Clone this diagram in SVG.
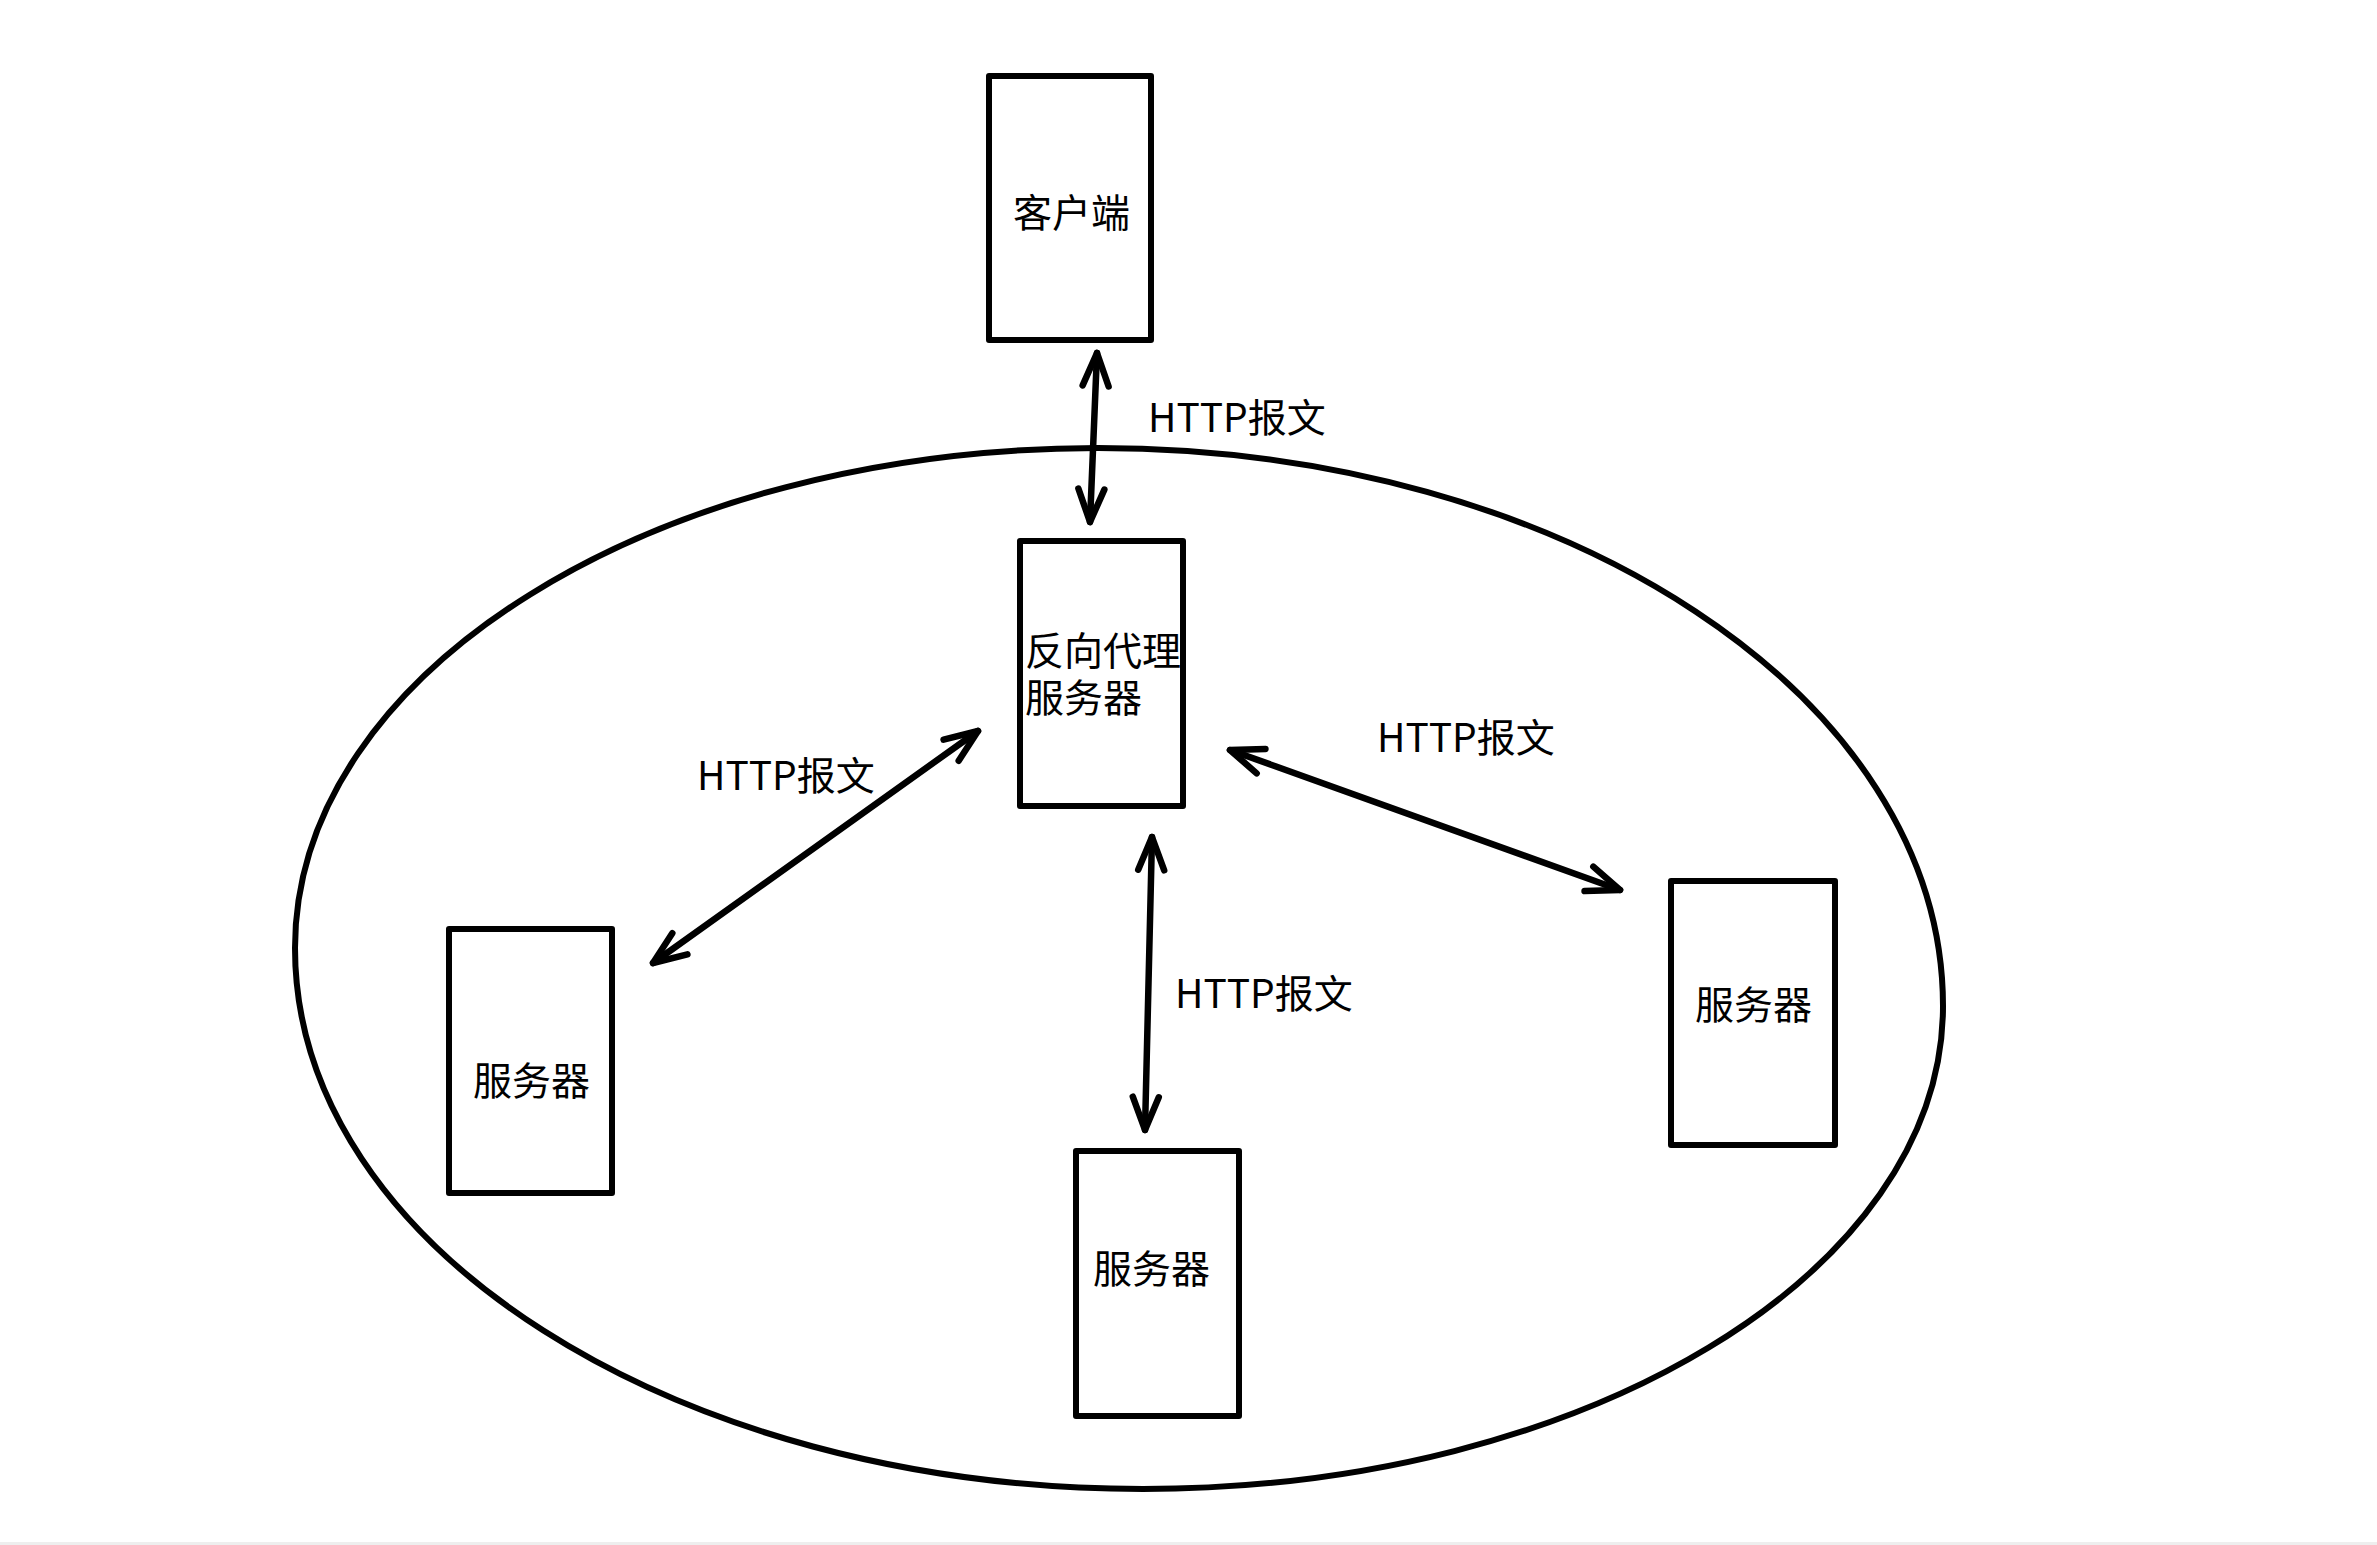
<svg xmlns="http://www.w3.org/2000/svg" width="2377" height="1545" viewBox="0 0 2377 1545">
  <style>
    .box { fill: #ffffff; stroke: #000000; stroke-width: 6; stroke-linejoin: round; }
    .ring { fill: none; stroke: #000000; stroke-width: 6; }
    .edge { fill: none; stroke: #000000; stroke-width: 6.5; stroke-linecap: round; stroke-linejoin: round; }
    .lbl { font-family: "Noto Sans CJK SC", "Noto Sans", sans-serif; font-size: 39px; fill: #000000; }
  </style>
  <defs>
    <marker id="vhead" markerUnits="userSpaceOnUse" markerWidth="80" markerHeight="80" refX="0" refY="0" orient="auto-start-reverse" overflow="visible">
      <path d="M -33 -13 L 0 0 L -33 13" fill="none" stroke="#000000" stroke-width="6.5" stroke-linecap="round" stroke-linejoin="round"/>
    </marker>
  </defs>
  <rect x="0" y="0" width="2377" height="1545" fill="#ffffff"/>
  <rect x="0" y="1542" width="2377" height="3" fill="#eeeeee"/>

  <g id="cluster">
    <path class="ring" d="M 295 948 C 295 671.8 654.5 448 1098 448 C 1564.7 448 1943 697.8 1943 1006 C 1943 1272.8 1584.8 1489 1143 1489 C 674.6 1489 295 1246.8 295 948 Z"/>
  </g>

  <g id="client">
    <rect class="box" x="989" y="76" width="162" height="264"/>
    <text class="lbl" x="1013" y="227">客户端</text>
  </g>

  <g id="proxy">
    <rect class="box" x="1020" y="541" width="163" height="265"/>
    <text class="lbl" x="1025" y="665">反向代理<tspan x="1025" dy="47">服务器</tspan></text>
  </g>

  <g id="server-left">
    <rect class="box" x="449" y="929" width="163" height="264"/>
    <text class="lbl" x="473" y="1095">服务器</text>
  </g>

  <g id="server-bottom">
    <rect class="box" x="1076" y="1151" width="163" height="265"/>
    <text class="lbl" x="1093" y="1283">服务器</text>
  </g>

  <g id="server-right">
    <rect class="box" x="1671" y="881" width="164" height="264"/>
    <text class="lbl" x="1695" y="1019">服务器</text>
  </g>

  <g id="connectors">
    <line class="edge" x1="1097" y1="353" x2="1090" y2="522" marker-start="url(#vhead)" marker-end="url(#vhead)"/>
    <line class="edge" x1="978" y1="731" x2="653" y2="963" marker-start="url(#vhead)" marker-end="url(#vhead)"/>
    <line class="edge" x1="1230" y1="750" x2="1620" y2="890" marker-start="url(#vhead)" marker-end="url(#vhead)"/>
    <line class="edge" x1="1152" y1="837" x2="1145" y2="1130" marker-start="url(#vhead)" marker-end="url(#vhead)"/>
    <text class="lbl" x="1148" y="432">HTTP报文</text>
    <text class="lbl" x="697" y="790">HTTP报文</text>
    <text class="lbl" x="1377" y="752">HTTP报文</text>
    <text class="lbl" x="1175" y="1008">HTTP报文</text>
  </g>
</svg>
